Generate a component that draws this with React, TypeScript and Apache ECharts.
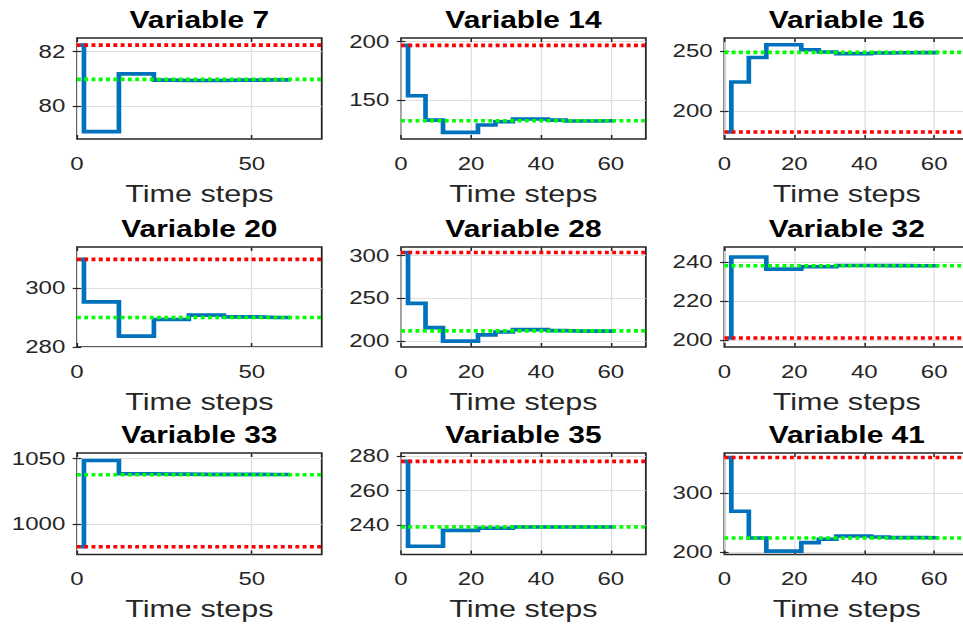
import React, { useEffect, useRef } from "react";
import * as echarts from "echarts";

// ---------- data ----------
const titles = [
  "Variable 7", "Variable 14", "Variable 16",
  "Variable 20", "Variable 28", "Variable 32",
  "Variable 33", "Variable 35", "Variable 41",
];
const stepTimes = [1, 2, 7, 12, 17, 22, 27, 32, 37, 42, 47, 52, 57, 61];

const var7 = [82.24, 79.08, 79.08, 81.19, 81.19, 80.96, 80.95, 80.95, 80.95, 80.96, 80.96, 80.97, 80.97, 80.97];
const var14 = [196.9, 153.7, 132.8, 122.3, 122.3, 128.6, 131.4, 133.7, 133.7, 132.8, 132.0, 132.0, 132.2, 132.2];
const var16 = [182.8, 224.5, 245.0, 255.6, 255.6, 251.4, 249.5, 248.1, 248.1, 248.7, 248.9, 249.0, 249.0, 249.0];
const var20 = [309.7, 295.3, 295.3, 283.7, 283.7, 289.3, 289.3, 290.8, 290.8, 290.2, 290.2, 290.0, 290.0, 290.0];
const var28 = [303.7, 244.3, 215.9, 200.2, 200.2, 207.5, 210.9, 213.6, 213.6, 212.4, 211.8, 211.8, 211.9, 211.9];
const var32 = [201.2, 242.5, 242.5, 236.3, 236.3, 237.5, 237.5, 238.2, 238.2, 238.1, 238.1, 238.0, 238.0, 238.0];
const var33 = [982.4, 1048.7, 1048.7, 1038.5, 1038.5, 1038.2, 1038.2, 1038.0, 1038.0, 1038.0, 1038.0, 1037.9, 1037.9, 1037.9];
const var35 = [277.1, 227.6, 227.6, 236.9, 236.9, 238.1, 238.1, 238.8, 238.8, 238.8, 238.8, 238.8, 238.8, 238.8];
const var41 = [360.0, 269.1, 224.0, 201.7, 201.7, 216.0, 221.7, 227.4, 227.4, 225.7, 224.5, 224.5, 224.3, 224.3];
const seriesValues = [var7, var14, var16, var20, var28, var32, var33, var35, var41];

const initialValues = [82.24, 196.9, 182.8, 309.7, 303.7, 201.2, 982.4, 277.1, 360.0];
const setpoints = [80.99, 132.3, 249.2, 290.0, 212.1, 238.0, 1037.7, 238.8, 224.0];

const yMins = [78.81, 116.6, 177.0, 280.0, 193.3, 196.6, 976.5, 222.8, 196.0];
const yMaxs = [82.5, 203.2, 261.2, 313.9, 310.1, 247.6, 1054.4, 282.0, 367.6];
const yTicks = [
  [80, 82], [150, 200], [200, 250],
  [280, 300], [200, 250, 300], [200, 220, 240],
  [1000, 1050], [240, 260, 280], [200, 300],
];
const xMin = 0;
const xMax = 70;
const xTicksWide = [0, 50];
const xTicksNarrow = [0, 20, 40, 60];
const xLabel = "Time steps";

// ---------- layout ----------
const SX = 1.3;
const CHART_W = 750;
const CHART_H = 625;
const colLeft = [59.2, 308.5, 557.2];
const plotW = 188.3;
const rowTop = [38, 247, 453];
const rowH = [101, 100, 101.5];
const FONT = '"Liberation Sans", Arial, Helvetica, sans-serif';
const AX = "#262626";
const GRIDC = "#dfdfdf";

function buildOption() {
  const grid: any[] = [];
  const xAxis: any[] = [];
  const yAxis: any[] = [];
  const series: any[] = [];
  const graphic: any[] = [];

  for (let i = 0; i < 9; i++) {
    const r = Math.floor(i / 3);
    const c = i % 3;
    const xt = c === 0 ? xTicksWide : xTicksNarrow;
    const yt = yTicks[i];
    grid.push({
      left: colLeft[c],
      top: rowTop[r],
      width: plotW,
      height: rowH[r],
      show: true,
      borderColor: AX,
      borderWidth: 1.4,
      backgroundColor: "transparent",
      containLabel: false,
      outerBoundsMode: "none",
    });
    const fmt = (v: number) => String(v);
    xAxis.push({
      type: "value",
      gridIndex: i,
      position: "bottom",
      min: xMin,
      max: xMax,
      axisLine: { show: false },
      axisTick: { show: true, inside: true, length: 4, customValues: xt, lineStyle: { color: AX, width: 1.2 } },
      axisLabel: { show: true, customValues: xt, margin: 15, fontSize: 18.5, color: AX, fontFamily: FONT, formatter: fmt },
      splitLine: { show: true, lineStyle: { color: GRIDC, width: 1 } },
      name: xLabel,
      nameLocation: "middle",
      nameGap: 42.5,
      nameTextStyle: { fontSize: 23.5, color: AX, fontFamily: FONT },
    });
    xAxis.push({
      type: "value",
      gridIndex: i,
      position: "top",
      min: xMin,
      max: xMax,
      axisLine: { show: false },
      axisTick: { show: true, inside: true, length: 4, customValues: xt, lineStyle: { color: AX, width: 1.2 } },
      axisLabel: { show: false },
      splitLine: { show: false },
    });
    yAxis.push({
      type: "value",
      gridIndex: i,
      position: "left",
      min: yMins[i],
      max: yMaxs[i],
      axisLine: { show: false },
      axisTick: { show: true, inside: true, length: 3.3, customValues: yt, lineStyle: { color: AX, width: 1.2 } },
      axisLabel: { show: true, customValues: yt, margin: 9, fontSize: 18.5, color: AX, fontFamily: FONT, formatter: fmt },
      splitLine: { show: true, lineStyle: { color: GRIDC, width: 1 } },
    });
    yAxis.push({
      type: "value",
      gridIndex: i,
      position: "right",
      min: yMins[i],
      max: yMaxs[i],
      axisLine: { show: false },
      axisTick: { show: true, inside: true, length: 3.3, customValues: yt, lineStyle: { color: AX, width: 1.2 } },
      axisLabel: { show: false },
      splitLine: { show: false },
    });

    const vals = seriesValues[i];
    series.push({
      type: "line",
      xAxisIndex: 2 * i,
      yAxisIndex: 2 * i,
      data: stepTimes.map((t, k) => [t, vals[k]]),
      step: "end",
      symbol: "none",
      silent: true,
      z: 2,
      lineStyle: { color: "#0072BD", width: 3.6, join: "miter", cap: "butt" },
    });
    series.push({
      type: "line",
      xAxisIndex: 2 * i,
      yAxisIndex: 2 * i,
      data: [[xMin, initialValues[i]], [xMax, initialValues[i]]],
      symbol: "none",
      silent: true,
      z: 3,
      lineStyle: { color: "#FF0000", width: 3.6, type: [3, 2.6], cap: "butt" },
    });
    series.push({
      type: "line",
      xAxisIndex: 2 * i,
      yAxisIndex: 2 * i,
      data: [[xMin, setpoints[i]], [xMax, setpoints[i]]],
      symbol: "none",
      silent: true,
      z: 4,
      lineStyle: { color: "#00FF00", width: 3.6, type: [3, 2.6], cap: "butt" },
    });

    graphic.push({
      type: "text",
      x: colLeft[c] + plotW / 2,
      y: rowTop[r] - 17.7,
      silent: true,
      style: {
        text: titles[i],
        font: `bold 23px ${FONT}`,
        fill: "#000",
        align: "center",
        verticalAlign: "middle",
        textAlign: "center",
        textVerticalAlign: "middle",
      },
    });
  }

  return {
    animation: false,
    backgroundColor: "#ffffff",
    grid,
    xAxis,
    yAxis,
    series,
    graphic,
  };
}

export default function App() {
  const ref = useRef<HTMLDivElement>(null);
  useEffect(() => {
    if (!ref.current) return;
    const chart = echarts.init(ref.current, null, { renderer: "svg" });
    chart.setOption(buildOption() as any);
    return () => chart.dispose();
  }, []);
  return (
    <div
      style={{
        position: "fixed",
        left: 0,
        top: 0,
        width: 963,
        height: 625,
        overflow: "hidden",
        background: "#fff",
      }}
    >
      <div
        ref={ref}
        style={{
          width: CHART_W,
          height: CHART_H,
          transform: `scaleX(${SX})`,
          transformOrigin: "0 0",
        }}
      />
    </div>
  );
}
